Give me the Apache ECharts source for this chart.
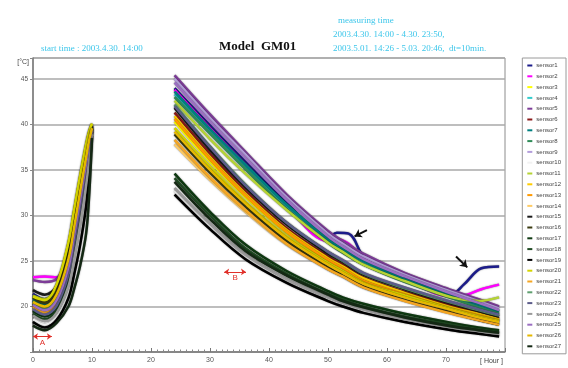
<!DOCTYPE html>
<html>
<head>
<meta charset="utf-8">
<script src="https://cdn.jsdelivr.net/npm/echarts@6/dist/echarts.min.js"></script>
<style>
  html, body { margin: 0; padding: 0; background: #fff; }
  #chart { width: 568px; height: 368px; }
</style>
</head>
<body>
<div id="chart"></div>
<script>
// sensor names and colours (legend order)
const sensorNames = [
  "sensor1", "sensor2", "sensor3", "sensor4", "sensor5", "sensor6", "sensor7", "sensor8", "sensor9",
  "sensor10", "sensor11", "sensor12", "sensor13", "sensor14", "sensor15", "sensor16", "sensor17", "sensor18",
  "sensor19", "sensor20", "sensor21", "sensor22", "sensor23", "sensor24", "sensor25", "sensor26", "sensor27",
];
const sensorColors = [
  "#1c1c8a", "#ff00ff", "#ffff00", "#33cccc", "#7d3c98", "#8b1a1a", "#008080", "#2e8b57", "#b39ddb",
  "#f2f2f2", "#b5d334", "#ffcc00", "#ff9900", "#ffcc66", "#1a1a1a", "#3a3a10", "#0f3a12", "#1f4a22",
  "#000000", "#d4d400", "#f5a623", "#5f9f6f", "#5c5c8a", "#9a9a9a", "#9b6fc2", "#e6b800", "#142814",
];

// first measuring period (hours from start)
const hoursLeft = [0, 2, 4, 6, 7, 8, 9, 9.5, 10];
const leftTemps = [
  [21.4, 20.8, 21.8, 25.5, 29.0, 33.0, 36.8, 38.5, 39.8],
  [23.2, 23.3, 23.2, 25.8, 29.3, 33.3, 37.0, 38.6, 39.8],
  [21.0, 20.6, 22.2, 26.8, 30.6, 34.3, 37.7, 39.1, 40.0],
  [20.6, 20.1, 21.2, 25.0, 28.6, 32.5, 36.3, 38.2, 39.6],
  [22.9, 22.7, 23.0, 25.6, 29.0, 33.0, 36.7, 38.4, 39.7],
  [20.3, 19.8, 20.9, 24.6, 28.2, 32.1, 35.9, 37.9, 39.5],
  [20.8, 20.3, 21.5, 25.3, 28.9, 32.8, 36.5, 38.3, 39.7],
  [20.6, 20.0, 21.3, 25.4, 29.2, 33.1, 36.8, 38.5, 39.7],
  [20.0, 19.5, 20.6, 24.2, 27.8, 31.8, 35.6, 37.7, 39.4],
  [18.6, 18.0, 18.9, 21.5, 24.5, 28.0, 32.3, 35.3, 38.9],
  [21.2, 20.8, 22.3, 26.9, 30.5, 34.2, 37.6, 39.0, 40.0],
  [20.4, 19.9, 21.0, 24.8, 28.4, 32.3, 36.1, 38.0, 39.6],
  [20.1, 19.6, 20.7, 24.4, 28.0, 31.9, 35.7, 37.8, 39.5],
  [19.8, 19.3, 20.3, 23.8, 27.3, 31.2, 35.2, 37.4, 39.3],
  [21.8, 21.3, 22.2, 25.8, 29.3, 33.2, 36.9, 38.6, 39.8],
  [21.0, 20.4, 21.6, 25.6, 29.3, 33.2, 36.9, 38.6, 39.8],
  [19.5, 18.9, 19.9, 23.2, 26.6, 30.5, 34.6, 37.0, 39.2],
  [19.2, 18.6, 19.6, 22.8, 26.1, 30.0, 34.1, 36.7, 39.1],
  [18.3, 17.7, 18.5, 20.9, 23.6, 26.8, 31.0, 34.4, 38.7],
  [21.1, 20.7, 22.4, 27.0, 30.7, 34.4, 37.8, 39.2, 40.1],
  [20.0, 19.4, 20.5, 24.0, 27.6, 31.5, 35.4, 37.6, 39.4],
  [20.3, 19.7, 20.9, 24.5, 28.1, 32.0, 35.8, 37.9, 39.5],
  [19.7, 19.1, 20.1, 23.5, 27.0, 30.9, 34.9, 37.2, 39.3],
  [19.0, 18.4, 19.3, 22.2, 25.3, 29.0, 33.3, 36.0, 39.0],
  [20.2, 19.6, 20.7, 24.3, 27.9, 31.8, 35.7, 37.8, 39.5],
  [20.5, 20.0, 21.3, 25.2, 28.8, 32.7, 36.4, 38.2, 39.6],
  [17.9, 17.4, 18.2, 20.0, 22.0, 24.5, 28.0, 32.0, 38.5],
];

// second measuring period; sensor1 and sensor2 have extra points for their bumps
const hoursRight = [24, 30, 36, 43, 50, 52.5, 56, 63, 71, 75.5, 79];
const bumpHours = [24, 30, 36, 43, 50, 51.5, 53.5, 56.5, 63, 71, 73, 76, 79];
const bumpSensors = [0, 1];
const rightTemps = [
  [44.0, 39.9, 35.9, 31.4, 27.6, 28.1, 28.0, 25.1, 23.3, 21.4, 22.4, 24.2, 24.4],
  [43.8, 39.6, 35.6, 31.0, 27.2, 27.4, 26.9, 25.1, 23.0, 21.1, 21.2, 21.9, 22.4],
  [40.3, 35.9, 32.0, 28.1, 25.0, 24.2, 22.9, 21.3, 19.8, 19.0, 18.5],
  [43.3, 39.3, 35.4, 31.0, 27.2, 26.2, 24.9, 22.9, 21.1, 20.1, 19.4],
  [45.4, 41.1, 37.0, 32.3, 28.3, 27.2, 25.8, 23.7, 21.8, 20.8, 20.0],
  [41.3, 36.8, 32.7, 28.6, 25.5, 24.6, 23.2, 21.6, 20.1, 19.3, 18.7],
  [43.6, 39.5, 35.6, 31.2, 27.4, 26.3, 25.0, 23.0, 21.2, 20.2, 19.5],
  [43.0, 39.0, 35.1, 30.7, 27.0, 25.9, 24.6, 22.7, 20.9, 19.9, 19.2],
  [45.0, 40.7, 36.7, 32.0, 28.0, 26.9, 25.5, 23.5, 21.6, 20.6, 19.8],
  [32.7, 28.8, 25.5, 22.9, 20.9, 20.3, 19.5, 18.5, 17.6, 17.2, 16.9],
  [42.6, 38.4, 34.6, 30.6, 27.0, 26.0, 24.6, 22.8, 21.0, 20.6, 21.0],
  [40.9, 36.4, 32.4, 28.4, 25.3, 24.4, 23.1, 21.5, 19.9, 19.2, 18.6],
  [40.6, 36.2, 32.2, 28.2, 25.1, 24.2, 22.8, 21.3, 19.7, 19.0, 18.4],
  [37.8, 33.9, 30.4, 26.8, 24.1, 23.3, 22.1, 20.7, 19.4, 18.7, 18.2],
  [41.8, 37.2, 33.1, 29.0, 25.8, 24.9, 23.5, 21.9, 20.3, 19.5, 18.9],
  [38.9, 34.7, 31.0, 27.2, 24.3, 23.4, 22.2, 20.7, 19.3, 18.5, 18.0],
  [34.6, 30.4, 26.8, 23.9, 21.7, 21.0, 20.3, 19.2, 18.2, 17.7, 17.4],
  [34.1, 30.0, 26.4, 23.6, 21.4, 20.8, 20.0, 18.9, 18.0, 17.5, 17.2],
  [32.3, 28.5, 25.2, 22.6, 20.6, 20.0, 19.3, 18.3, 17.4, 17.0, 16.7],
  [39.6, 35.4, 31.5, 27.7, 24.8, 23.9, 22.6, 21.2, 19.7, 18.9, 18.4],
  [38.3, 34.2, 30.6, 26.9, 24.1, 23.3, 22.1, 20.6, 19.2, 18.5, 18.0],
  [42.2, 37.6, 33.4, 29.2, 26.0, 25.0, 23.6, 22.0, 20.4, 19.6, 19.0],
  [42.0, 37.5, 33.3, 29.2, 26.0, 25.1, 23.7, 22.1, 20.5, 19.7, 19.1],
  [33.0, 29.1, 25.7, 23.0, 21.0, 20.4, 19.7, 18.6, 17.7, 17.3, 17.0],
  [44.6, 40.3, 36.3, 31.7, 27.7, 26.6, 25.2, 23.3, 21.4, 20.4, 19.6],
  [39.2, 35.0, 31.3, 27.5, 24.6, 23.7, 22.5, 21.0, 19.6, 18.8, 18.3],
  [33.7, 29.6, 26.1, 23.4, 21.3, 20.6, 19.9, 18.8, 17.8, 17.4, 17.1],
];

// annotation marks [hour, °C]
const spanA = [[0, 16.7], [3.2, 16.7]];
const spanB = [[32.4, 23.8], [36.1, 23.8]];
const arrow1 = [[56.6, 28.4], [54.5, 27.7]];
const arrow2 = [[71.7, 25.5], [73.6, 24.3]];

const cyan = "#3cc6ea";
const serif = "'Liberation Serif', 'DejaVu Serif', serif";

const sensorSeries = sensorNames.map((name, i) => {
  const hrs = bumpSensors.includes(i) ? bumpHours : hoursRight;
  const data = hoursLeft
    .map((h, j) => [h, leftTemps[i][j]])
    .concat([[17, "-"]])
    .concat(hrs.map((h, j) => [h, rightTemps[i][j]]));
  return {
    name,
    type: "line",
    data,
    symbol: "none",
    showSymbol: false,
    smooth: 0.35,
    connectNulls: false,
    color: sensorColors[i],
    lineStyle: {
      width: 2.5,
      color: sensorColors[i],
      shadowColor: "rgba(0,0,0,0.55)",
      shadowBlur: 1.5,
    },
  };
});

const notesSeries = {
  name: "notes",
  type: "line",
  data: [],
  z: 5,
  markLine: {
    silent: true,
    animation: false,
    symbolSize: 5,
    data: [
      [
        { coord: spanA[0], symbol: "arrow", lineStyle: { color: "#e0302a", width: 1, type: "solid" },
          label: { show: true, formatter: "A", position: "insideMiddleBottom", color: "#e0302a", fontSize: 8, distance: 2 } },
        { coord: spanA[1], symbol: "arrow" },
      ],
      [
        { coord: spanB[0], symbol: "arrow", lineStyle: { color: "#e0302a", width: 1, type: "solid" },
          label: { show: true, formatter: "B", position: "insideMiddleBottom", color: "#e0302a", fontSize: 8, distance: 2 } },
        { coord: spanB[1], symbol: "arrow" },
      ],
      [
        { coord: arrow1[0], symbol: "none", lineStyle: { color: "#111", width: 2, type: "solid" }, label: { show: false } },
        { coord: arrow1[1], symbol: "arrow", symbolSize: 7 },
      ],
      [
        { coord: arrow2[0], symbol: "none", lineStyle: { color: "#111", width: 2, type: "solid" }, label: { show: false } },
        { coord: arrow2[1], symbol: "arrow", symbolSize: 7 },
      ],
    ],
  },
};

const chart = echarts.init(document.getElementById("chart"), null, { renderer: "canvas" });

chart.setOption({
  animation: false,
  backgroundColor: "#fff",
  title: [
    { text: "Model  GM01", left: 214, top: 35, textStyle: { fontFamily: serif, fontSize: 13, fontWeight: "bold", color: "#111" } },
    { text: "start time : 2003.4.30. 14:00", left: 36, top: 39, textStyle: { fontFamily: serif, fontSize: 9, fontWeight: "normal", color: cyan } },
    { text: "measuring time", left: 333, top: 11, textStyle: { fontFamily: serif, fontSize: 9, fontWeight: "normal", color: cyan } },
    { text: "2003.4.30. 14:00 - 4.30. 23:50,", left: 328, top: 25, textStyle: { fontFamily: serif, fontSize: 9, fontWeight: "normal", color: cyan } },
    { text: "2003.5.01. 14:26 - 5.03. 20:46,  dt=10min.", left: 328, top: 39, textStyle: { fontFamily: serif, fontSize: 9, fontWeight: "normal", color: cyan } },
  ],
  legend: {
    data: sensorNames,
    orient: "vertical",
    right: 2,
    top: 58,
    padding: [4, 5, 4, 5],
    borderColor: "#9a9a9a",
    borderWidth: 1,
    icon: "rect",
    itemWidth: 5,
    itemHeight: 2,
    itemGap: 3.8,
    textStyle: { fontSize: 6, lineHeight: 7, color: "#444", padding: [0, 0, 0, -1] },
  },
  grid: {
    left: 33,
    right: 63,
    top: 58,
    bottom: 16,
    show: true,
    borderColor: "#8c8c8c",
    borderWidth: 1,
  },
  xAxis: {
    type: "value",
    min: 0,
    max: 80,
    interval: 10,
    name: "[ Hour ]",
    nameLocation: "end",
    nameGap: -25,
    nameTextStyle: { fontSize: 7, color: "#444", verticalAlign: "top", padding: [6, 0, 0, 0] },
    axisLine: { lineStyle: { color: "#7a7a7a", width: 1.5 } },
    axisTick: { inside: true, length: 4, lineStyle: { color: "#777" } },
    minorTick: { show: true, splitNumber: 10, length: 2.5, lineStyle: { color: "#888" } },
    splitLine: { show: false },
    axisLabel: {
      fontSize: 7,
      color: "#555",
      margin: 5,
      formatter: (v) => (v === 80 ? "" : v),
    },
  },
  yAxis: {
    type: "value",
    min: 15,
    max: 47.3,
    interval: 5,
    name: "[°C]",
    nameLocation: "end",
    nameGap: -4,
    nameTextStyle: { fontSize: 7, color: "#444", align: "right", verticalAlign: "middle", padding: [0, 4, 0, 0] },
    axisLine: { show: true, lineStyle: { color: "#7a7a7a", width: 1.5 } },
    axisTick: { show: true, length: 3, lineStyle: { color: "#888" } },
    splitLine: { lineStyle: { color: "#a8a8a8", width: 1.5 } },
    axisLabel: {
      fontSize: 6.5,
      color: "#555",
      margin: 5,
      formatter: (v) => (v % 5 === 0 && v !== 15 ? v : ""),
    },
  },
  series: sensorSeries.concat([notesSeries]),
});
</script>
</body>
</html>
